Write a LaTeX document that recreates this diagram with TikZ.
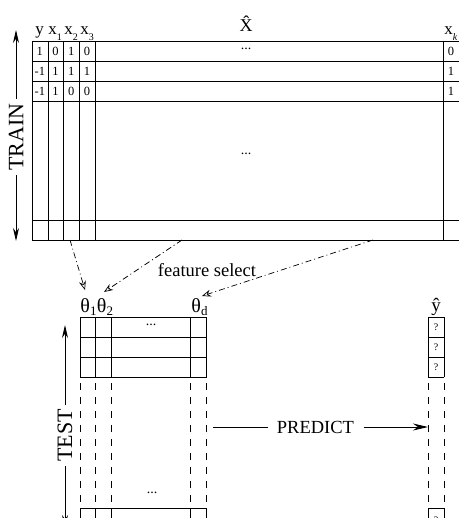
\documentclass[tikz,border=0pt]{standalone}
\usepackage{fontspec}
\setmainfont{Liberation Serif}
\usetikzlibrary{arrows.meta}
\newcommand\fsz[1]{\fontsize{#1}{#1}\selectfont}
\newcommand\lsub[1]{\raisebox{-0.3em}{\fsz{10}#1}}
\newcommand\tsub[1]{\raisebox{-0.15em}{\fsz{13}#1}}
\begin{document}
\begin{tikzpicture}[x=1pt,y=-1pt,line width=0.9pt,
  grid/.style={draw=black,line width=0.9pt},
  cell/.style={font=\fsz{12.5},inner sep=0pt},
  lbl/.style={font=\fsz{17},inner sep=0pt,anchor=base west},
  dots/.style={font=\fsz{14},inner sep=0pt},
  qm/.style={font=\fsz{10},inner sep=0pt},
  theta/.style={font=\fsz{20},inner sep=0pt,anchor=base west},
  side/.style={font=\fsz{22},rotate=90,inner sep=4pt},
  bigarrow/.style={-{Stealth[length=13pt,width=6pt]}},
  fsarrow/.style={line width=0.7pt,dash pattern=on 6pt off 3pt on 1pt off 3pt,
    -{Stealth[open,length=9pt,width=7pt]}},
  dashcol/.style={line width=0.8pt,dash pattern=on 7pt off 7pt}]
\useasboundingbox (0,0) rectangle (458,518);

% ---------- training table ----------
\foreach \y in {41,61,81,101,220,240} \draw[grid] (32,\y) -- (470,\y);
\foreach \x in {32,48,63,79,95,443} \draw[grid] (\x,41) -- (\x,240);

\node[lbl] (ly)  at (35,35) {y};
\node[lbl] (lx1) at (48,35) {x\lsub{1}};
\node[lbl] (lx2) at (64,35) {x\lsub{2}};
\node[lbl] (lx3) at (80,35) {x\lsub{3}};
\node[font=\fsz{18},inner sep=0pt,anchor=base] (xhat) at (246,32) {\^X};
\node[lbl] (lxk) at (444,35) {x\lsub{\itshape k}};

\foreach \v [count=\c] in {1,0,1,0} \node[cell] (ra\c) at ({32+15.75*\c-7.9},51) {\v};
\foreach \v [count=\c] in {-1,1,1,1} \node[cell] (rb\c) at ({32+15.75*\c-7.9},71) {\v};
\foreach \v [count=\c] in {-1,1,0,0} \node[cell] (rc\c) at ({32+15.75*\c-7.9},91) {\v};
\node[cell] (ka) at (451,51) {0};
\node[cell] (kb) at (451,71) {1};
\node[cell] (kc) at (451,91) {1};
\node[dots] (d1) at (246,49) {...};
\node[dots] (d2) at (246,154) {...};

% TRAIN arrow
\node[side] (train) at (16,137) {TRAIN};
\coordinate (trtop) at (16,30);
\coordinate (trbot) at (16,241);
\draw[bigarrow] (train.east) -- (trtop);
\draw[bigarrow] (train.west) -- (trbot);

% ---------- feature select ----------
\coordinate (fs1) at (70,240);
\coordinate (fs2) at (182,240);
\coordinate (fs3) at (373,240);
\coordinate (tip1) at (85,290);
\coordinate (tip2) at (104,292);
\coordinate (tip3) at (202,296);
\draw[fsarrow] (fs1) -- (tip1);
\draw[fsarrow] (fs2) -- (tip2);
\draw[fsarrow] (fs3) -- (tip3);
\node[font=\fsz{18.5},inner sep=0pt] (fsel) at (207,270) {feature select};

% ---------- test table ----------
\node[theta] (t1) at (80,312) {θ\tsub{1}};
\node[theta] (t2) at (96.5,312) {θ\tsub{2}};
\node[theta] (td) at (191,312) {θ\tsub{d}};

\foreach \y in {317,337,357,377} \draw[grid] (80,\y) -- (206.5,\y);
\foreach \x in {80,95.5,111,190,206.5} {
  \draw[grid] (\x,317) -- (\x,377);
  \draw[dashcol] (\x,383) -- (\x,506);
  \draw[grid] (\x,508) -- (\x,530);
}
\draw[grid] (80,508) -- (206.5,508);
\node[dots] (d3) at (151,325) {...};
\node[dots] (d4) at (152,493) {...};

% ---------- predictions ----------
\node[font=\fsz{19},inner sep=0pt,anchor=base] (yhat) at (436,311) {ŷ};
\foreach \y in {317,337,357,377} \draw[grid] (428,\y) -- (444,\y);
\foreach \x in {428,444} {
  \draw[grid] (\x,317) -- (\x,377);
  \draw[dashcol] (\x,383) -- (\x,506);
  \draw[grid] (\x,508) -- (\x,530);
}
\draw[grid] (428,508) -- (444,508);
\node[qm] (q1) at (436,327) {?};
\node[qm] (q2) at (436,347) {?};
\node[qm] (q3) at (436,367) {?};
\node[qm] (q4) at (436,520) {?};

% TEST arrow
\node[side] (test) at (65,435.5) {TEST};
\coordinate (tetop) at (65,325);
\coordinate (tebot) at (65,528);
\draw[bigarrow] (test.east) -- (tetop);
\draw[bigarrow] (test.west) -- (tebot);

% PREDICT arrow
\node[font=\fsz{18.5},inner sep=9pt] (pred) at (315.5,427) {PREDICT};
\coordinate (pl) at (213,427);
\coordinate (pr) at (428,427);
\draw (pred.west) -- (pl);
\draw[-{Stealth[length=15pt,width=7pt]}] (pred.east) -- (pr);
\end{tikzpicture}
\end{document}
